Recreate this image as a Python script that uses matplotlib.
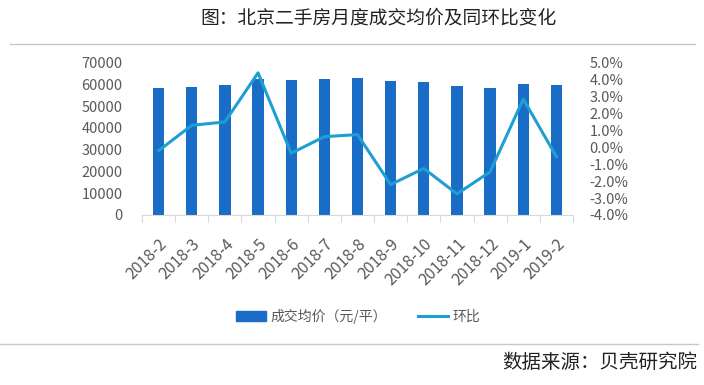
import matplotlib
matplotlib.use("Agg")
import matplotlib.pyplot as plt
from matplotlib.ticker import FuncFormatter, FixedLocator
from matplotlib.lines import Line2D

plt.rcParams["font.family"] = ["Noto Sans CJK SC", "DejaVu Sans"]

# ── data ─────────────────────────────────────────────────────────────────────
months = ["2018-2", "2018-3", "2018-4", "2018-5", "2018-6", "2018-7", "2018-8",
          "2018-9", "2018-10", "2018-11", "2018-12", "2019-1", "2019-2"]
avg_price = [58200, 58800, 59700, 62700, 62000, 62500, 63000,
             61600, 61100, 59300, 58400, 60200, 59700]
mom_pct = [-0.2, 1.3, 1.5, 4.4, -0.35, 0.63, 0.75,
           -2.2, -1.25, -2.75, -1.45, 2.85, -0.55]

C_BAR = "#1a6dc6"
C_LINE = "#1e9fd4"
C_TXT = "#595959"

fig = plt.figure(figsize=(7.04, 3.85), dpi=100)
fig.patch.set_facecolor("white")

ax = fig.add_axes([142 / 704, 1 - 215 / 385, (573 - 142) / 704, (215 - 62.7) / 385])
x = list(range(len(months)))
ax.bar(x, avg_price, width=0.34, color=C_BAR, zorder=2)
ax.set_xlim(-0.5, len(months) - 0.5)
ax.set_ylim(0, 70000)
ax.set_yticks(range(0, 70001, 10000))
ax.tick_params(axis="y", length=0, pad=14, labelsize=10.5, labelcolor=C_TXT)
ax.set_xticks(x)
ax.set_xticklabels(months, rotation=45, ha="right", rotation_mode="anchor",
                   fontsize=11.5, color=C_TXT)
ax.tick_params(axis="x", which="major", length=0, pad=15)
ax.xaxis.set_minor_locator(FixedLocator([i - 0.5 for i in range(len(months) + 1)]))
ax.tick_params(axis="x", which="minor", length=5, color="#d9d9d9", width=0.8)
for s in ["top", "left", "right"]:
    ax.spines[s].set_visible(False)
ax.spines["bottom"].set_color("#d9d9d9")
ax.spines["bottom"].set_linewidth(0.8)

ax2 = ax.twinx()
ax2.plot(x, mom_pct, color=C_LINE, lw=2.2, zorder=3)
ax2.set_ylim(-4, 5)
ax2.set_yticks(range(-4, 6))
ax2.yaxis.set_major_formatter(FuncFormatter(lambda v, p: f"{v:.1f}%"))
ax2.tick_params(axis="y", length=0, pad=12, labelsize=10.5, labelcolor=C_TXT)
for s in ax2.spines.values():
    s.set_visible(False)

# legend
handles = [plt.Rectangle((0, 0), 1, 1, color=C_BAR),
           Line2D([0], [0], color=C_LINE, lw=2.2)]
fig.legend(handles, ["成交均价（元/平）", "环比"], loc="center",
           bbox_to_anchor=(358 / 704, 1 - 316 / 385), ncol=2, frameon=False,
           fontsize=10, labelcolor=C_TXT, handlelength=2.2, columnspacing=2.2,
           handletextpad=0.3)

# title, rules, source
fig.text(379 / 704, 1 - 18 / 385, "图：北京二手房月度成交均价及同环比变化",
         ha="center", va="center", fontsize=13.5, color="#222222")
fig.add_artist(Line2D([10 / 704, 695 / 704], [1 - 44 / 385] * 2,
                      color="#c8c8c8", lw=1))
fig.add_artist(Line2D([0 / 704, 698 / 704], [1 - 344 / 385] * 2,
                      color="#c8c8c8", lw=1))
fig.text(697 / 704, 1 - 362 / 385, "数据来源：贝壳研究院",
         ha="right", va="center", fontsize=14, color="#222222")

fig.savefig("out.png", dpi=100, facecolor="white")
